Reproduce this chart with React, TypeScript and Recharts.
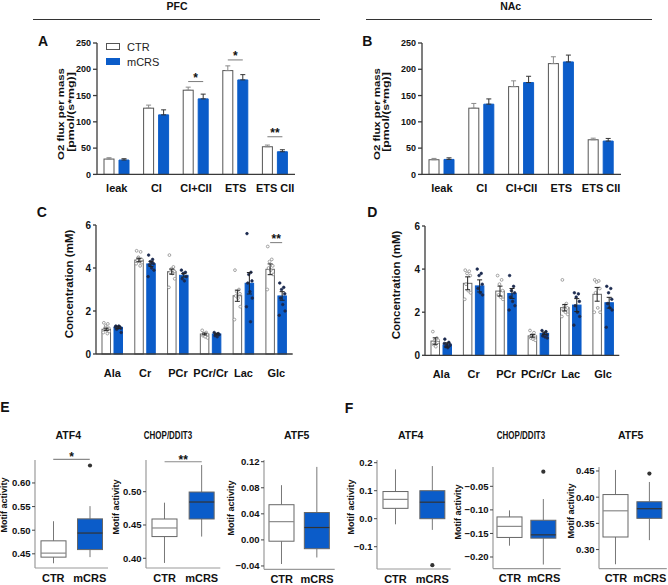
import React from 'react';
import { BarChart, Bar, XAxis, YAxis, ErrorBar, ReferenceLine, Legend } from 'recharts';

const FONT = '"Liberation Sans", Arial, Helvetica, sans-serif';
const BLUE = '#0b5cc9';
const AX = '#3a3a3a';
const SPINE = '#9a9a9a';
const INK = '#111';

// ---------- Panel A / B : O2 flux ----------
const oxCats = ['leak', 'CI', 'CI+CII', 'ETS', 'ETS CII'];
const oxTicks = [0, 50, 100, 150, 200, 250];
const pfcOxCtr = [29.2, 126, 160.2, 197.5, 52.6];
const pfcOxCtrSem = [2.5, 5.8, 5.8, 9, 3.2];
const pfcOxMcrs = [27.3, 113.3, 143.7, 179.8, 43.1];
const pfcOxMcrsSem = [2.5, 9.5, 9, 10, 3.8];
const pfcOxSig = ['', '', '*', '*', '**'];
const pfcOxSigAt = [0, 0, 176.6, 217.8, 71.6];
const nacOxCtr = [27.9, 126, 167, 210.8, 65.9];
const nacOxCtrSem = [2.5, 9, 11, 13, 3];
const nacOxMcrs = [28.5, 133.6, 174.7, 214, 63.4];
const nacOxMcrsSem = [3, 10, 12, 13, 5];
const nacOxSig = ['', '', '', '', ''];
const nacOxSigAt = [0, 0, 0, 0, 0];

// ---------- Panel C / D : metabolites ----------
const metCats = ['Ala', 'Cr', 'PCr', 'PCr/Cr', 'Lac', 'Glc'];
const metTicks = [0, 2, 4, 6];
const pfcMetCtr = [1.15, 4.37, 3.83, 0.93, 2.71, 3.94];
const pfcMetCtrSem = [0.05, 0.08, 0.12, 0.04, 0.26, 0.25];
const pfcMetMcrs = [1.24, 4.19, 3.66, 0.93, 3.29, 2.7];
const pfcMetMcrsSem = [0.05, 0.12, 0.08, 0.04, 0.5, 0.2];
const pfcMetSig = ['', '', '', '', '', '**'];
const pfcMetSigAt = [0, 0, 0, 0, 0, 5.18];
const pfcMetCtrPts = [
  [1.45, 1.4, 1.3, 1.2, 1.15, 1.1, 1.05, 1.0, 0.95, 1.2],
  [4.8, 4.75, 4.5, 4.4, 4.35, 4.3, 4.25, 4.2, 4.1, 4.45],
  [4.6, 4.05, 3.95, 3.85, 3.8, 3.75, 3.5, 3.1, 3.9],
  [1.1, 1.0, 0.95, 0.9, 0.85, 0.8, 0.75],
  [3.9, 3.0, 2.9, 2.8, 2.7, 2.6, 2.2, 1.6],
  [5.0, 4.4, 4.3, 4.1, 4.0, 3.9, 3.7, 3.0],
];
const pfcMetMcrsPts = [
  [1.3, 1.25, 1.2, 1.2, 1.15, 1.3, 1.0, 1.25],
  [4.6, 4.4, 4.3, 4.2, 4.15, 4.0, 3.9, 3.6, 4.25],
  [3.9, 3.8, 3.75, 3.6, 3.5, 3.4],
  [1.0, 0.95, 0.9, 0.9, 0.85, 0.8],
  [5.6, 3.8, 3.7, 3.4, 3.3, 2.9, 2.6, 2.2, 1.5],
  [3.3, 3.1, 3.0, 2.8, 2.6, 2.3, 2.0, 1.8],
];
const nacMetCtr = [0.66, 3.34, 2.98, 0.9, 2.21, 2.83];
const nacMetCtrSem = [0.15, 0.3, 0.23, 0.06, 0.15, 0.32];
const nacMetMcrs = [0.48, 3.22, 2.87, 1.02, 2.33, 2.44];
const nacMetMcrsSem = [0.1, 0.28, 0.23, 0.06, 0.3, 0.25];
const nacMetSig = ['', '', '', '', '', ''];
const nacMetSigAt = [0, 0, 0, 0, 0, 0];
const nacMetCtrPts = [
  [1.1, 0.8, 0.7, 0.6, 0.5, 0.4, 0.7],
  [3.95, 3.9, 3.8, 3.7, 3.3, 3.0, 2.9, 2.6],
  [3.7, 3.5, 3.3, 3.0, 2.8, 2.7, 2.6],
  [1.15, 1.05, 0.95, 0.9, 0.8, 0.75, 0.7],
  [3.5, 2.4, 2.3, 2.2, 2.1, 2.0, 1.9, 1.8],
  [3.5, 3.45, 3.4, 3.1, 2.9, 2.2, 2.0, 2.0],
];
const nacMetMcrsPts = [
  [0.75, 0.6, 0.5, 0.45, 0.4, 0.35, 0.5, 0.55],
  [4.0, 3.8, 3.7, 3.3, 3.1, 2.9, 2.8],
  [3.7, 3.2, 3.0, 2.9, 2.7, 2.5, 2.3, 2.1],
  [1.15, 1.1, 1.0, 0.95, 0.9, 0.85, 0.8],
  [2.9, 2.85, 2.7, 2.5, 2.3, 2.0, 1.8, 1.4],
  [3.2, 3.1, 2.9, 2.6, 2.4, 2.2, 2.1, 1.3],
];

// ---------- Panel E / F : motif activity box plots ----------
const boxGroups = ['CTR', 'mCRS'];
const boxTitles = ['ATF4', 'CHOP/DDIT3', 'ATF5', 'ATF4', 'CHOP/DDIT3', 'ATF5'];
// [low whisker, Q1, median, Q3, high whisker]
const boxCtr = [
  [0.43, 0.443, 0.4515, 0.4775, 0.519],
  [0.393, 0.4326, 0.4455, 0.459, 0.4835],
  [-0.037, -0.002, 0.028, 0.054, 0.084],
  [-0.02, 0.037, 0.069, 0.097, 0.176],
  [-0.176, -0.1585, -0.135, -0.115, -0.101],
  [0.272, 0.324, 0.374, 0.405, 0.452],
];
const boxMcrs = [
  [0.443, 0.459, 0.494, 0.524, 0.551],
  [0.4326, 0.459, 0.4845, 0.4995, 0.54],
  [-0.027, -0.0135, 0.019, 0.042, 0.112],
  [-0.04, 0.0, 0.059, 0.1, 0.188],
  [-0.216, -0.16, -0.153, -0.122, -0.077],
  [0.318, 0.3596, 0.378, 0.3913, 0.429],
];
const boxOutCtr = [[], [], [], [], [], []];
const boxOutMcrs = [[0.637], [], [], [-0.166], [-0.019], [0.445]];
const boxTicks = [
  [0.45, 0.5, 0.55, 0.6],
  [0.4, 0.45, 0.5],
  [-0.04, 0, 0.04, 0.08, 0.12],
  [-0.1, 0, 0.1, 0.2],
  [-0.2, -0.15, -0.1, -0.05],
  [0.3, 0.35, 0.4, 0.45],
];
const boxDecimals = [2, 2, 2, 1, 2, 2];
const boxSig = ['*', '**', '', '', '', ''];
const boxSigAt = [0.65, 0.545, 0, 0, 0, 0];

// ---------- layout ----------
type Frame = { x0: number; x1: number; y0: number; y1: number };
type Pad = { l: number; r: number; t: number; b: number };
function place(f: Frame, p: Pad) {
  return {
    left: f.x0 - p.l,
    top: f.y0 - p.t,
    width: f.x1 - f.x0 + p.l + p.r,
    height: f.y1 - f.y0 + p.t + p.b,
    margin: { top: p.t, right: p.r, bottom: 0, left: 0 },
    yw: p.l,
    xh: p.b,
  };
}
const boxDomains: [number, number][] = [
  [0.42, 0.6486], [0.3854, 0.5476], [-0.0451, 0.1226],
  [-0.1796, 0.2096], [-0.2246, -0.009], [0.2637, 0.4576],
];
const boxFrames: Frame[] = [
  { x0: 35, x1: 108, y0: 460, y1: 568 },
  { x0: 145.7, x1: 220, y0: 460, y1: 568 },
  { x0: 264.3, x1: 335, y0: 460, y1: 569.3 },
  { x0: 377.3, x1: 451, y0: 460, y1: 569 },
  { x0: 493, x1: 560.7, y0: 466.7, y1: 568.3 },
  { x0: 598.7, x1: 666.5, y0: 466.7, y1: 568.3 },
];
const boxTitleX = [68.3, 168.3, 296.7, 410.7, 520.7, 630.7];
const boxYLabelPos = [[4, 505], [116, 507], [231, 508], [351, 507], [458, 512], [571, 511]];
const JIT = [-2.4, 1.6, -0.6, 2.6, -1.6, 0.6, 2.9, -2.9, 1.1, -1.1];

const Txt = ({ x, y, size = 11, weight = 700, rot = false, sx = 1, children }: any) => (
  <div
    style={{
      position: 'absolute', left: x, top: y,
      transform: `translate(-50%,-50%)${rot ? ' rotate(-90deg)' : ''}${sx !== 1 ? ` scaleX(${sx})` : ''}`,
      fontFamily: FONT, fontSize: size, fontWeight: weight, lineHeight: 1,
      whiteSpace: 'nowrap', color: INK,
    }}
  >
    {children}
  </div>
);

function drawSig(p: any, gap: number, key: string) {
  const { x, y, width, height, payload } = p;
  if (!payload.sig) return null;
  const k = height / payload[key];
  const yy = y + height - payload.sigAt * k;
  const c1 = x + width / 2;
  const c2 = x + 1.5 * width + gap;
  return (
    <g>
      <line x1={c1} x2={c2} y1={yy} y2={yy} stroke="#7a7a7a" strokeWidth={1} />
      <text x={(c1 + c2) / 2} y={yy + 0.5} textAnchor="middle" fontSize={12} fontWeight={700} fill={INK} fontFamily={FONT}>
        {payload.sig}
      </text>
    </g>
  );
}

const legendContent = (props: any) => (
  <div>
    {(props.payload || []).map((e: any) => (
      <div key={e.value} style={{ display: 'flex', alignItems: 'center', height: 15, fontSize: 11, fontWeight: 400, fontFamily: FONT, color: '#222' }}>
        <span style={{ display: 'inline-block', width: 14, height: 7, boxSizing: 'border-box', background: e.color, border: `1px solid ${e.color === '#fff' ? '#555' : e.color}`, marginRight: 7 }} />
        {e.value}
      </div>
    ))}
  </div>
);

function OxChart({ frame, ctr, ctrSem, mcrs, mcrsSem, sig, sigAt, showLegend }: any) {
  const pad = { l: 50, r: 10, t: 12, b: 30 };
  const g = place(frame, pad);
  const data = oxCats.map((name, i) => ({
    name, ctr: ctr[i], mcrs: mcrs[i], ctrErr: [0, ctrSem[i]], mcrsErr: [0, mcrsSem[i]], sig: sig[i], sigAt: sigAt[i],
  }));
  const tickStyle = { fontSize: 9, fontWeight: 700, fill: INK, fontFamily: FONT };
  return (
    <div style={{ position: 'absolute', left: g.left, top: g.top }}>
      <BarChart width={g.width} height={g.height} data={data} margin={g.margin} barSize={10} barGap={5}>
        <XAxis dataKey="name" interval={0} tickLine={false} tickSize={6} tickMargin={4} height={g.xh}
          axisLine={{ stroke: AX, strokeWidth: 1.3 }} tick={{ ...tickStyle, fontSize: 11 }} />
        <YAxis domain={[0, 250]} ticks={oxTicks} interval={0} width={g.yw} tickSize={4} tickMargin={2}
          axisLine={{ stroke: AX, strokeWidth: 1.3 }} tickLine={{ stroke: AX, strokeWidth: 1.3 }} tick={tickStyle} />
        <Bar dataKey="ctr" name="CTR" fill="#fff" stroke="#555" isAnimationActive={false}
          shape={(p: any) => (
            <g>
              <rect x={p.x} y={p.y} width={p.width} height={p.height} fill="#fff" stroke="#555" strokeWidth={1} />
              {drawSig(p, 5, 'ctr')}
            </g>
          )}>
          <ErrorBar dataKey="ctrErr" width={2.5} stroke="#8a8a8a" strokeWidth={1} direction="y" isAnimationActive={false} />
        </Bar>
        <Bar dataKey="mcrs" name="mCRS" fill={BLUE} stroke={BLUE} isAnimationActive={false}>
          <ErrorBar dataKey="mcrsErr" width={2.5} stroke="#333" strokeWidth={1} direction="y" isAnimationActive={false} />
        </Bar>
        {showLegend && (
          <Legend layout="horizontal" verticalAlign="middle" align="center" content={legendContent}
            wrapperStyle={{ position: 'absolute', left: 106 - g.left, top: 39.5 - g.top, width: 'auto', height: 'auto' }} />
        )}
      </BarChart>
    </div>
  );
}

function MetChart({ frame, ctr, ctrSem, mcrs, mcrsSem, ctrPts, mcrsPts, sig, sigAt }: any) {
  const pad = { l: 50, r: 10, t: 12, b: 30 };
  const g = place(frame, pad);
  const gap = 3.5;
  const data = metCats.map((name, i) => ({
    name, ctr: ctr[i], mcrs: mcrs[i], ctrErr: ctrSem[i], mcrsErr: mcrsSem[i],
    ctrPts: ctrPts[i], mcrsPts: mcrsPts[i], sig: sig[i], sigAt: sigAt[i],
  }));
  const tickStyle = { fontSize: 10, fontWeight: 700, fill: INK, fontFamily: FONT };
  const shape = (kind: 'ctr' | 'mcrs') => (p: any) => {
    const { x, y, width, height, payload } = p;
    const v = payload[kind];
    const k = height / v;
    const base = y + height;
    const cx = x + width / 2;
    const pts: number[] = kind === 'ctr' ? payload.ctrPts : payload.mcrsPts;
    return (
      <g>
        <rect x={x} y={y} width={width} height={height}
          fill={kind === 'ctr' ? '#fff' : BLUE} stroke={kind === 'ctr' ? '#666' : BLUE} strokeWidth={1} />
        {pts.map((pv, i) => (
          <circle key={i} cx={cx + JIT[i % JIT.length]} cy={base - pv * k} r={kind === 'ctr' ? 1.4 : 1.3}
            fill={kind === 'ctr' ? '#fff' : '#1b2a4f'} stroke={kind === 'ctr' ? '#808080' : '#1b2a4f'} strokeWidth={0.7} />
        ))}
        {kind === 'ctr' ? drawSig(p, gap, 'ctr') : null}
      </g>
    );
  };
  return (
    <div style={{ position: 'absolute', left: g.left, top: g.top }}>
      <BarChart width={g.width} height={g.height} data={data} margin={g.margin} barSize={8.5} barGap={gap}>
        <XAxis dataKey="name" interval={0} tickLine={false} tickSize={6} tickMargin={9} height={g.xh}
          axisLine={{ stroke: AX, strokeWidth: 1.3 }} tick={{ ...tickStyle, fontSize: 11 }} />
        <YAxis domain={[0, 6]} ticks={metTicks} interval={0} width={g.yw} tickSize={3} tickMargin={2}
          axisLine={{ stroke: AX, strokeWidth: 1.3 }} tickLine={{ stroke: AX, strokeWidth: 1.3 }} tick={tickStyle} />
        <Bar dataKey="ctr" name="CTR" fill="#fff" isAnimationActive={false} shape={shape('ctr')}>
          <ErrorBar dataKey="ctrErr" width={2.5} stroke="#222" strokeWidth={1} direction="y" isAnimationActive={false} />
        </Bar>
        <Bar dataKey="mcrs" name="mCRS" fill={BLUE} isAnimationActive={false} shape={shape('mcrs')}>
          <ErrorBar dataKey="mcrsErr" width={2.5} stroke="#222" strokeWidth={1} direction="y" isAnimationActive={false} />
        </Bar>
      </BarChart>
    </div>
  );
}

const boxShape = (p: any) => {
  const { x, y, width, height, payload } = p;
  const [lo, q1, md, q3, hi] = payload.st;
  const k = height / (q3 - q1);
  const py = (v: number) => y + (q3 - v) * k;
  const cx = x + width / 2;
  const blue = payload.name === 'mCRS';
  return (
    <g>
      <line x1={cx} x2={cx} y1={py(hi)} y2={py(q3)} stroke="#777" strokeWidth={1} />
      <line x1={cx} x2={cx} y1={py(q1)} y2={py(lo)} stroke="#777" strokeWidth={1} />
      <rect x={x} y={y} width={width} height={height} fill={blue ? BLUE : '#fff'} stroke="#666" strokeWidth={1} />
      <line x1={x} x2={x + width} y1={py(md)} y2={py(md)} stroke={blue ? '#333' : '#8a8a8a'} strokeWidth={1.2} />
      {payload.out.map((o: number, j: number) => (
        <circle key={j} cx={cx} cy={py(o)} r={2.1} fill="#333" />
      ))}
    </g>
  );
};

function BoxChart({ i }: { i: number }) {
  const pad = { l: 35, r: 1.5, t: 20, b: 22 };
  const g = place(boxFrames[i], pad);
  const stats = [boxCtr[i], boxMcrs[i]];
  const outs = [boxOutCtr[i], boxOutMcrs[i]];
  const data = boxGroups.map((name, j) => ({ name, box: [stats[j][1], stats[j][3]], st: stats[j], out: outs[j] }));
  const dec = boxDecimals[i];
  const fmt = (v: number) => v.toFixed(dec).replace('-', '\u2212');
  const dom = boxDomains[i];
  return (
    <div style={{ position: 'absolute', left: g.left, top: g.top }}>
      <BarChart width={g.width} height={g.height} data={data} margin={g.margin} barSize={25}>
        <XAxis dataKey="name" interval={0} tickLine={false} tickSize={4} tickMargin={2} height={g.xh}
          axisLine={{ stroke: SPINE, strokeWidth: 1.2 }} tick={{ fontSize: 11, fontWeight: 700, fill: INK, fontFamily: FONT }} />
        <YAxis yAxisId="l" domain={dom} ticks={boxTicks[i]} interval={0} width={g.yw} tickSize={3} tickMargin={1.5}
          tickFormatter={fmt} axisLine={{ stroke: SPINE, strokeWidth: 1.2 }} tickLine={{ stroke: '#444' }}
          tick={{ fontSize: 9.5, fontWeight: 700, fill: INK, fontFamily: FONT }} />
        <YAxis yAxisId="r" orientation="right" domain={dom} width={0} tick={false} tickLine={false}
          axisLine={{ stroke: '#b5b5b5', strokeWidth: 1.2 }} />
        <Bar yAxisId="l" dataKey="box" isAnimationActive={false} shape={boxShape} />
        {boxSig[i] ? (
          <ReferenceLine yAxisId="l" ifOverflow="visible" stroke="#8a8a8a" strokeWidth={1.2}
            segment={[{ x: 'CTR', y: boxSigAt[i] }, { x: 'mCRS', y: boxSigAt[i] }]}
            label={{ value: boxSig[i], position: 'top', offset: -2, fontSize: 12, fontWeight: 700, fill: INK, fontFamily: FONT }} />
        ) : null}
      </BarChart>
    </div>
  );
}

export default function App() {
  return (
    <div style={{ position: 'absolute', left: 0, top: 0, width: 668, height: 585, background: '#fff', overflow: 'hidden', fontFamily: FONT }}>
      {/* headers */}
      <Txt x={177} y={6} size={10.5}>PFC</Txt>
      <Txt x={510.7} y={6} size={10.5}>NAc</Txt>
      <div style={{ position: 'absolute', left: 33, top: 18.5, width: 287, height: 1, background: '#333' }} />
      <div style={{ position: 'absolute', left: 365.7, top: 18.5, width: 286.6, height: 1, background: '#333' }} />

      {/* panel letters */}
      <Txt x={43} y={41} size={14}>A</Txt>
      <Txt x={367.3} y={40.7} size={14}>B</Txt>
      <Txt x={41.7} y={211.7} size={14}>C</Txt>
      <Txt x={372.3} y={211.7} size={14}>D</Txt>
      <Txt x={5} y={407} size={14}>E</Txt>
      <Txt x={349} y={408} size={14}>F</Txt>

      {/* A / B */}
      <OxChart frame={{ x0: 97, x1: 295, y0: 43.3, y1: 174.7 }} ctr={pfcOxCtr} ctrSem={pfcOxCtrSem}
        mcrs={pfcOxMcrs} mcrsSem={pfcOxMcrsSem} sig={pfcOxSig} sigAt={pfcOxSigAt} showLegend />
      <OxChart frame={{ x0: 422.3, x1: 621.3, y0: 43.3, y1: 174.7 }} ctr={nacOxCtr} ctrSem={nacOxCtrSem}
        mcrs={nacOxMcrs} mcrsSem={nacOxMcrsSem} sig={nacOxSig} sigAt={nacOxSigAt} showLegend={false} />
      <Txt x={61} y={114} size={9.5} rot sx={1.2}>O2 flux per mass</Txt>
      <Txt x={70.5} y={112} size={9.5} rot sx={1.3}>[pmol/(s*mg)]</Txt>
      <Txt x={376.7} y={114} size={9.5} rot sx={1.2}>O2 flux per mass</Txt>
      <Txt x={386.2} y={112} size={9.5} rot sx={1.3}>[pmol/(s*mg)]</Txt>

      {/* C / D */}
      <MetChart frame={{ x0: 96, x1: 292.7, y0: 225, y1: 354 }} ctr={pfcMetCtr} ctrSem={pfcMetCtrSem}
        mcrs={pfcMetMcrs} mcrsSem={pfcMetMcrsSem} ctrPts={pfcMetCtrPts} mcrsPts={pfcMetMcrsPts}
        sig={pfcMetSig} sigAt={pfcMetSigAt} />
      <MetChart frame={{ x0: 424.7, x1: 619, y0: 226, y1: 355.3 }} ctr={nacMetCtr} ctrSem={nacMetCtrSem}
        mcrs={nacMetMcrs} mcrsSem={nacMetMcrsSem} ctrPts={nacMetCtrPts} mcrsPts={nacMetMcrsPts}
        sig={nacMetSig} sigAt={nacMetSigAt} />
      <Txt x={70} y={283.5} size={11.5} rot>Concentration (mM)</Txt>
      <Txt x={397.3} y={285} size={11.5} rot>Concentration (mM)</Txt>

      {/* E / F */}
      {boxTitles.map((t, i) => (
        <React.Fragment key={i}>
          <BoxChart i={i} />
          <Txt x={boxTitleX[i]} y={435} size={10.5} sx={t.length > 5 ? 0.76 : 1}>{t}</Txt>
          <Txt x={boxYLabelPos[i][0]} y={boxYLabelPos[i][1]} size={9} rot>Motif activity</Txt>
        </React.Fragment>
      ))}
    </div>
  );
}
